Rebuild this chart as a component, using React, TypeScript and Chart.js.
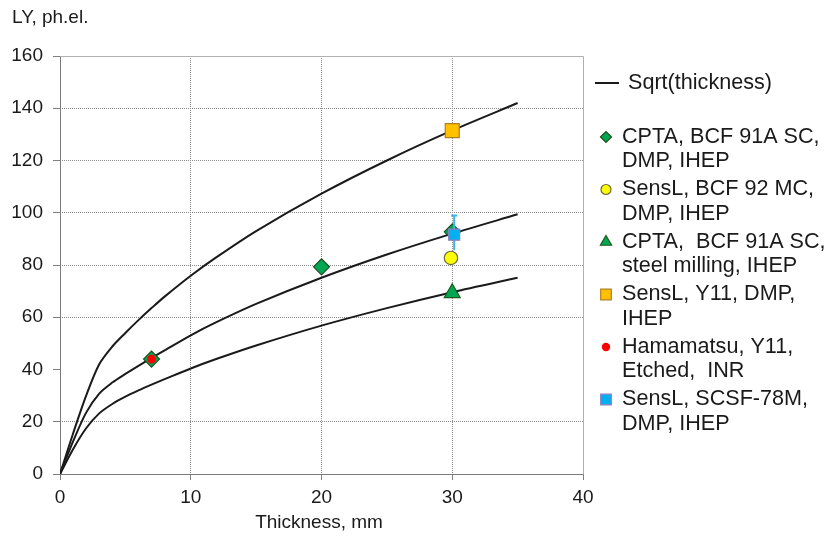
import React, { useEffect, useRef } from 'react';
import { Chart, registerables } from 'chart.js';
import { drawPoint } from 'chart.js/helpers';
Chart.register(...registerables);

const FONT = '"Liberation Sans", Arial, sans-serif';
const TEXT = '#1a1a1a';

// Sqrt(thickness) reference curves
const curveX = [0, 1, 2, 3, 4, 5, 6, 7, 8, 10, 12, 15, 20, 25, 30, 35];
const curveHigh = [0, 15.5, 30.0, 42.0, 48.8, 54.0, 58.9, 63.5, 67.9, 75.9, 83.1, 93.0, 107.3, 120.0, 131.5, 142.0];
const curveMid = [0, 12.5, 23.5, 30.8, 35.0, 38.3, 41.4, 44.4, 47.3, 53.1, 58.2, 65.1, 75.1, 84.0, 92.0, 99.4];
const curveLow = [0, 9.5, 17.5, 23.2, 26.8, 29.6, 32.0, 34.2, 36.3, 40.4, 44.1, 49.2, 56.8, 63.5, 69.6, 75.1];

// measurements
const cptaDmpX = [7, 20, 30];
const cptaDmpY = [44.0, 79.3, 92.7];
const senslBcf92X = [29.9];
const senslBcf92Y = [82.7];
const cptaSteelX = [30];
const cptaSteelY = [69.3];
const senslY11X = [30];
const senslY11Y = [131.4];
const hamamatsuX = [7];
const hamamatsuY = [44.0];
const senslScsfX = [30.15];
const senslScsfY = [91.6];
const senslScsfErrPlus = [7.3];
const senslScsfErrMinus = [6.0];

const xTicks = [0, 10, 20, 30, 40];
const yTicks = [0, 20, 40, 60, 80, 100, 120, 140, 160];

const legendLine = 'Sqrt(thickness)';
const legendLabels = [
  ['CPTA, BCF 91A SC,', 'DMP, IHEP'],
  ['SensL, BCF 92 MC,', 'DMP, IHEP'],
  ['CPTA,  BCF 91A SC,', 'steel milling, IHEP'],
  ['SensL, Y11, DMP,', 'IHEP'],
  ['Hamamatsu, Y11,', 'Etched,  INR'],
  ['SensL, SCSF-78M,', 'DMP, IHEP'],
];

const pts = (xs: number[], ys: number[]) => xs.map((x, i) => ({ x, y: ys[i] }));

const markerStyles = [
  { style: 'rectRot', bg: '#00a651', border: '#1d4d1d', r: 8, lr: 5.5, bw: 1.2 },
  { style: 'circle', bg: '#ffff00', border: '#6b6b3a', r: 6.7, lr: 5, bw: 1.2 },
  { style: 'triangle', bg: '#00a651', border: '#1d5a1d', r: 9.2, lr: 6.5, bw: 1.2 },
  { style: 'rect', bg: '#ffc000', border: '#b08020', r: 9.9, lr: 7.5, bw: 1.2 },
  { style: 'circle', bg: '#ff0000', border: '#ff0000', r: 4.4, lr: 4.2, bw: 0 },
  { style: 'rect', bg: '#00b0f0', border: '#8c7fc0', r: 7.8, lr: 7.5, bw: 1.2 },
];

const extrasPlugin = {
  id: 'extras',
  beforeDatasetsDraw(chart: any) {
    const { ctx, chartArea: a } = chart;
    ctx.save();
    ctx.lineWidth = 1;
    ctx.strokeStyle = '#b0b0b0';
    ctx.beginPath();
    ctx.moveTo(Math.round(a.left) + 0.5, Math.round(a.top) + 0.5);
    ctx.lineTo(Math.round(a.right) + 0.5, Math.round(a.top) + 0.5);
    ctx.lineTo(Math.round(a.right) + 0.5, Math.round(a.bottom) + 0.5);
    ctx.stroke();
    ctx.strokeStyle = '#7a7a7a';
    ctx.beginPath();
    ctx.moveTo(Math.round(a.left) + 0.5, Math.round(a.top) + 0.5);
    ctx.lineTo(Math.round(a.left) + 0.5, Math.round(a.bottom) + 0.5);
    ctx.lineTo(Math.round(a.right) + 0.5, Math.round(a.bottom) + 0.5);
    ctx.stroke();
    ctx.restore();
  },
  beforeDatasetDraw(chart: any, args: any) {
    if (args.index !== 8) return;
    const { ctx, scales } = chart;
    ctx.save();
    ctx.strokeStyle = '#3cb4ee';
    ctx.lineWidth = 2;
    senslScsfX.forEach((xv, i) => {
      const x = scales.x.getPixelForValue(xv);
      const yTop = scales.y.getPixelForValue(senslScsfY[i] + senslScsfErrPlus[i]);
      const yBot = scales.y.getPixelForValue(senslScsfY[i] - senslScsfErrMinus[i]);
      ctx.beginPath();
      ctx.moveTo(x, yTop);
      ctx.lineTo(x, yBot);
      ctx.moveTo(x - 3, yTop);
      ctx.lineTo(x + 3, yTop);
      ctx.stroke();
    });
    ctx.restore();
  },
  afterDraw(chart: any) {
    const { ctx } = chart;
    ctx.save();
    ctx.fillStyle = TEXT;
    ctx.textBaseline = 'middle';
    ctx.font = `19px ${FONT}`;
    ctx.textAlign = 'left';
    ctx.fillText('LY, ph.el.', 12, 18);
    ctx.textAlign = 'center';
    ctx.fillText('Thickness, mm', 319, 523);

    // legend
    ctx.font = `21.6px ${FONT}`;
    ctx.textAlign = 'left';
    ctx.strokeStyle = '#1a1a1a';
    ctx.lineWidth = 2;
    ctx.beginPath();
    ctx.moveTo(595, 83);
    ctx.lineTo(619, 83);
    ctx.stroke();
    ctx.fillText(legendLine, 628, 83);
    legendLabels.forEach((lines, i) => {
      const y0 = 137 + i * 52.5;
      const m = markerStyles[i];
      ctx.fillStyle = m.bg;
      ctx.strokeStyle = m.border;
      ctx.lineWidth = m.bw;
      drawPoint(ctx, { pointStyle: m.style, radius: m.lr, borderWidth: m.bw, rotation: 0 } as any, 606, y0);
      ctx.fillStyle = TEXT;
      lines.forEach((t, j) => ctx.fillText(t, 622, y0 + j * 24.5));
    });
    ctx.restore();
  },
};

export default function App() {
  const ref = useRef<HTMLCanvasElement>(null);
  useEffect(() => {
    const canvas = ref.current!;
    const curveDs = (ys: number[]) => ({
      data: pts(curveX, ys),
      showLine: true,
      borderColor: '#1a1a1a',
      borderWidth: 2,
      pointRadius: 0,
      tension: 0.3,
      order: 10,
    });
    const markerDs = (xs: number[], ys: number[], i: number, order: number) => ({
      data: pts(xs, ys),
      showLine: false,
      pointStyle: markerStyles[i].style,
      pointRadius: markerStyles[i].r,
      backgroundColor: markerStyles[i].bg,
      borderColor: markerStyles[i].border,
      pointBorderWidth: markerStyles[i].bw,
      borderWidth: markerStyles[i].bw,
      order,
    });
    const tickFont = { family: FONT, size: 19 };
    const gridColor = (c: any) => {
      const v = c.tick ? c.tick.value : null;
      return v === 0 || v === 40 || v === 160 ? 'rgba(0,0,0,0)' : '#8c8c8c';
    };
    const chart = new Chart(canvas, {
      type: 'scatter',
      data: {
        datasets: [
          curveDs(curveHigh),
          curveDs(curveMid),
          curveDs(curveLow),
          markerDs(cptaDmpX, cptaDmpY, 0, 6),
          markerDs(senslBcf92X, senslBcf92Y, 1, 5),
          markerDs(cptaSteelX, cptaSteelY, 2, 4),
          markerDs(senslY11X, senslY11Y, 3, 3),
          markerDs(hamamatsuX, hamamatsuY, 4, 2),
          markerDs(senslScsfX, senslScsfY, 5, 1),
        ] as any,
      },
      options: {
        responsive: false,
        animation: false,
        layout: { padding: { left: 0, top: 56, right: 248, bottom: 0 } },
        plugins: { legend: { display: false }, tooltip: { enabled: false } },
        scales: {
          x: {
            type: 'linear',
            min: 0,
            max: 40,
            afterBuildTicks: (s: any) => { s.ticks = xTicks.map((v) => ({ value: v })); },
            afterFit: (s: any) => { s.height = 65; },
            ticks: { font: tickFont, color: TEXT, padding: 6, maxRotation: 0 },
            grid: { color: gridColor, lineWidth: 1, tickColor: '#808080', tickLength: 6 },
            border: { display: false, dash: [1, 1] },
          },
          y: {
            type: 'linear',
            min: 0,
            max: 160,
            afterBuildTicks: (s: any) => { s.ticks = yTicks.map((v) => ({ value: v })); },
            afterFit: (s: any) => { s.width = 60; },
            ticks: { font: tickFont, color: TEXT, padding: 10 },
            grid: { color: gridColor, lineWidth: 1, tickColor: '#808080', tickLength: 7 },
            border: { display: false, dash: [1, 1] },
          },
        },
      } as any,
      plugins: [extrasPlugin],
    });
    return () => chart.destroy();
  }, []);
  return (
    <div style={{ position: 'fixed', left: 0, top: 0, width: 831, height: 539, background: '#fff' }}>
      <canvas ref={ref} width={831} height={539} style={{ width: 831, height: 539, display: 'block' }} />
    </div>
  );
}
